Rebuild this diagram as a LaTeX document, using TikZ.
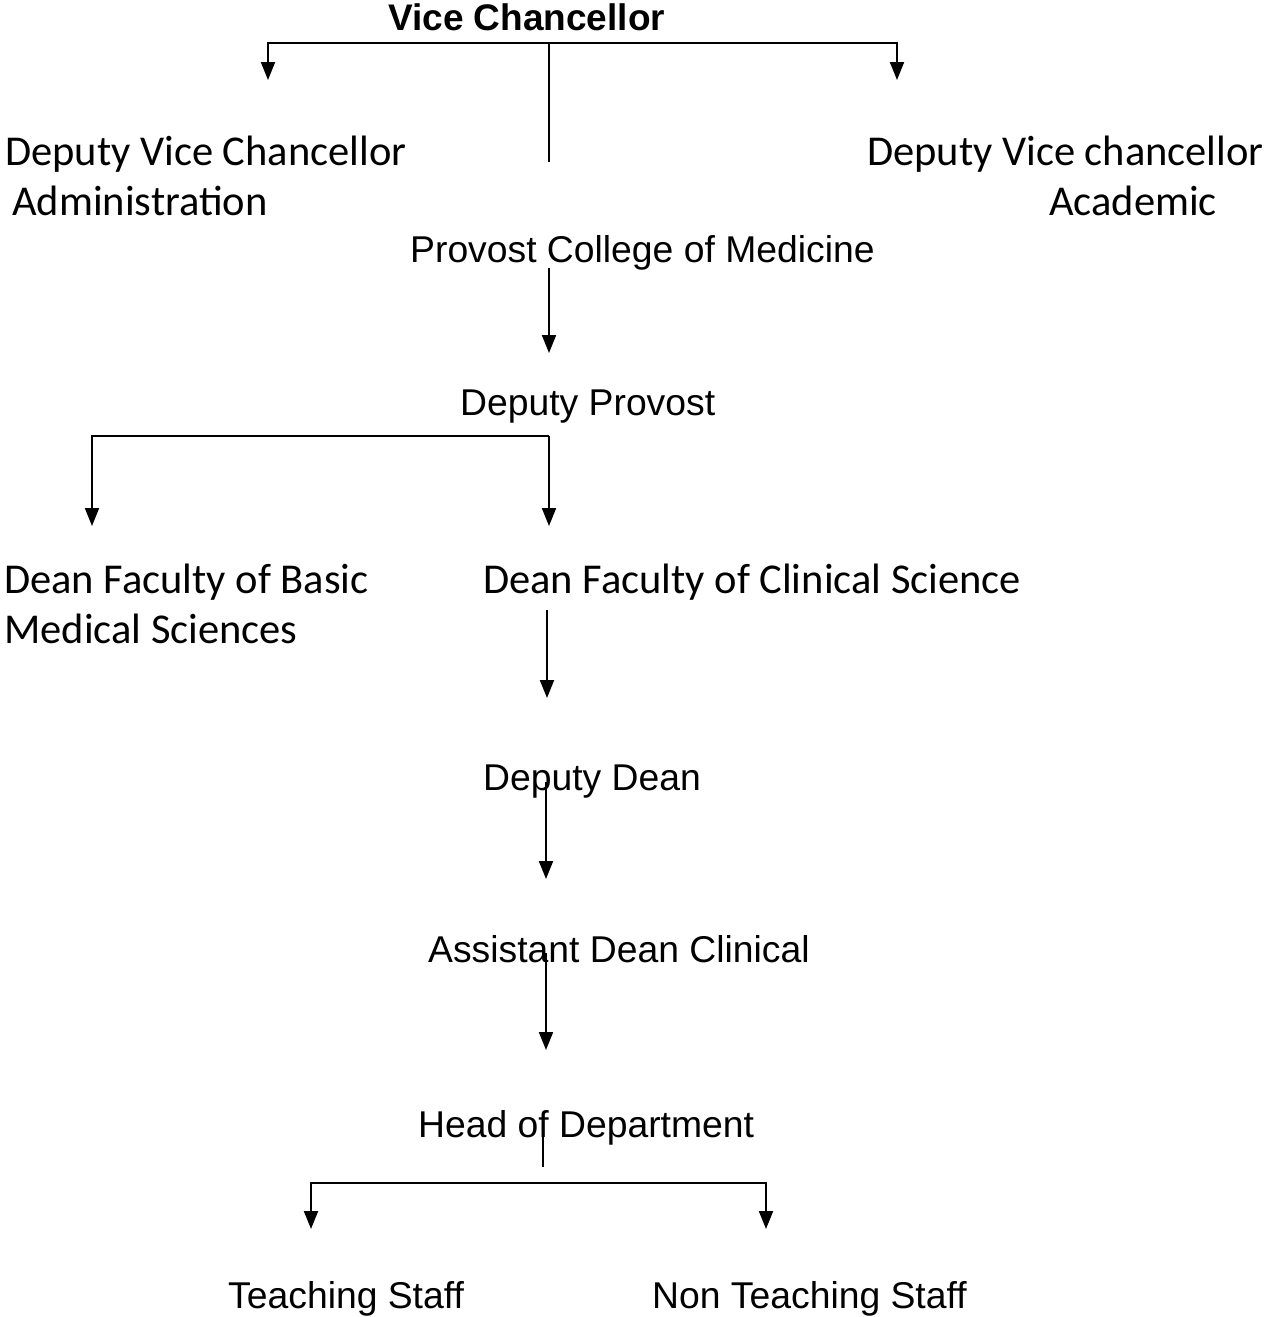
\documentclass[tikz,border=0pt]{standalone}
\usepackage{fontspec}
\usetikzlibrary{arrows.meta}
\newfontfamily\arialf{Liberation Sans}
\newfontfamily\calf{Carlito}
\begin{document}
\begin{tikzpicture}[x=1pt,y=-1pt,
  lbl/.style={inner sep=0pt,anchor=base west},
  ar/.style={lbl,font=\fontsize{37.3}{44}\selectfont\arialf},
  arb/.style={lbl,font=\fontsize{37}{44}\selectfont\arialf\bfseries},
  ca/.style={lbl,align=left,font=\fontsize{42.5}{50}\selectfont\calf},
  ln/.style={line width=2pt,black},
  arr/.style={ln,-{Triangle[length=18pt,width=14pt]}}]
\useasboundingbox[fill=white] (0,0) rectangle (1264,1317);
% texts (two-line nodes are placed by the baseline of their last line)
\node[arb] (vc) at (388,30) {Vice Chancellor};
\node[ca] (dvca) at (5,215) {Deputy Vice Chancellor\\\hspace*{7pt}Administration};
\node[ca] (dvcac) at (867,215) {Deputy Vice chancellor\\\hspace*{182pt}Academic};
\node[ar] (prov) at (410,262) {Provost College of Medicine};
\node[ar] (dprov) at (460,415) {Deputy Provost};
\node[ca] (dbasic) at (4,643) {Dean Faculty of Basic\\Medical Sciences};
\node[ca] (dclin) at (483,593) {Dean Faculty of Clinical Science};
\node[ar] (ddean) at (483,790) {Deputy Dean};
\node[ar] (adean) at (428,962) {Assistant Dean Clinical};
\node[ar] (hod) at (418,1137) {Head of Department};
\node[ar] (teach) at (228,1308) {Teaching Staff};
\node[ar] (nonteach) at (652,1308) {Non Teaching Staff};
% connector points
\coordinate (j1) at (549,43);
\coordinate (a1) at (268,80);
\coordinate (a2) at (897,80);
\coordinate (s1) at (549,162);
\coordinate (p1) at (549,268);
\coordinate (p2) at (549,353);
\coordinate (j2) at (549,436);
\coordinate (b1) at (92,526);
\coordinate (b2) at (549,526);
\coordinate (c1) at (547,610);
\coordinate (c2) at (547,698);
\coordinate (d1) at (546,782);
\coordinate (d2) at (546,879);
\coordinate (e1) at (546,953);
\coordinate (e2) at (546,1050);
\coordinate (h1) at (543,1137);
\coordinate (h2) at (543,1167);
\coordinate (j3) at (543,1183);
\coordinate (t1) at (311,1229);
\coordinate (t2) at (766,1229);
% connectors
\draw[arr] (j1) -| (a1);
\draw[arr] (j1) -| (a2);
\draw[ln] (j1) -- (s1);
\draw[arr] (p1) -- (p2);
\draw[arr] (j2) -| (b1);
\draw[arr] (j2) -- (b2);
\draw[arr] (c1) -- (c2);
\draw[arr] (d1) -- (d2);
\draw[arr] (e1) -- (e2);
\draw[ln] (h1) -- (h2);
\draw[arr] (j3) -| (t1);
\draw[arr] (j3) -| (t2);
\end{tikzpicture}
\end{document}
